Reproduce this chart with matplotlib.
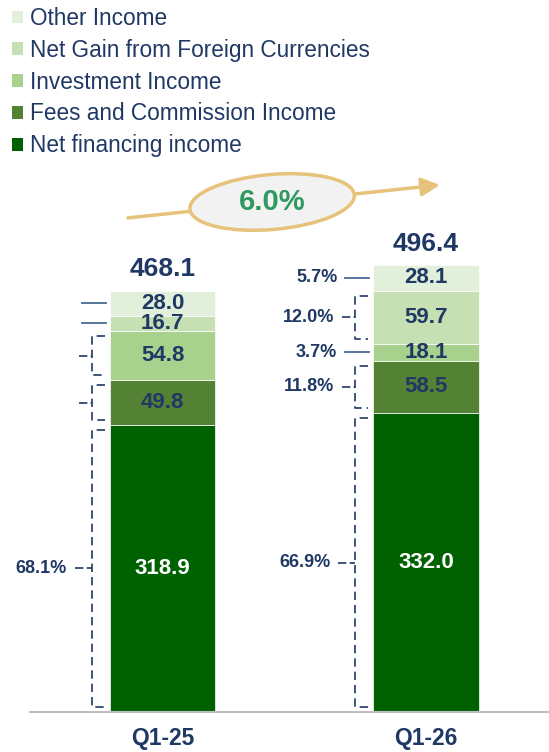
"""
Revenue breakdown Q1-25 vs Q1-26, stacked bars
"""
import matplotlib.pyplot as plt
from matplotlib.patches import Ellipse, Patch
from matplotlib.transforms import IdentityTransform

plt.rcParams['font.family'] = ['Liberation Sans', 'DejaVu Sans']

periods = ['Q1-25', 'Q1-26']
segments = ['Net financing income', 'Fees and Commission Income', 'Investment Income',
            'Net Gain from Foreign Currencies', 'Other Income']
q1_25 = [318.9, 49.8, 54.8, 16.7, 28.0]
q1_26 = [332.0, 58.5, 18.1, 59.7, 28.1]
totals = [468.1, 496.4]
pct_q1_25 = [68.1, None, None, None, None]
pct_q1_26 = [66.9, 11.8, 3.7, 12.0, 5.7]
growth = '6.0%'

colors = ['#006100', '#548235', '#A9D18E', '#C6E0B4', '#E2EFDA']
navy = '#1F3864'
tan = '#E6C27A'

fig = plt.figure(figsize=(5.49, 7.52), dpi=100)
ax = fig.add_axes([30 / 549, 40 / 752, 519 / 549, 712 / 752])

px = 1 / 263.5   # one pixel in x data units
py = 1 / 0.9     # one pixel in y data units
xs = [0, 1]
width = 0.4

ax.set_xlim(-0.503, 1.467)
ax.set_ylim(0, 712 * py)

values = [q1_25, q1_26]
pcts = [pct_q1_25, pct_q1_26]
for i, x in enumerate(xs):
    bottom = 0
    bl = x - width / 2
    for j, v in enumerate(values[i]):
        ax.bar(x, v, width, bottom=bottom, color=colors[j], edgecolor='white', linewidth=0.5)
        tc = 'white' if j == 0 else navy
        ax.text(x, bottom + v / 2, f'{v:.1f}', ha='center', va='center',
                fontsize=16, fontweight='bold', color=tc)
        mid = bottom + v / 2
        if v > 30:
            top = bottom + v - 5 * py
            bot = bottom + 5 * py
            vx = bl - 18 * px
            ax.plot([bl - 5 * px, vx, vx, bl - 5 * px], [top, top, bot, bot],
                    color=navy, lw=1.2, ls=(0, (5, 3)))
            tick = 35 if j == 0 else 31
            ax.plot([bl - tick * px, vx], [mid, mid], color=navy, lw=1.2, ls=(0, (5, 2)))
            lx = bl - (tick + 8) * px
        else:
            ax.plot([bl - 28 * px, bl - 4 * px], [mid, mid], color='#4A6A94', lw=1.3)
            lx = bl - 36 * px
        p = pcts[i][j]
        if p is not None:
            ax.text(lx, mid, f'{p:.1f}%', ha='right', va='center',
                    fontsize=13, fontweight='bold', color=navy)
        bottom += v
    ax.annotate(f'{totals[i]:.1f}', (x, totals[i]), xytext=(0, 7), textcoords='offset points',
                ha='center', va='bottom', fontsize=19, fontweight='bold', color=navy)

# growth arrow
ax.annotate('', xy=(1.053, 585.6), xytext=(-0.131, 549),
            arrowprops=dict(arrowstyle='-|>,head_length=1.1,head_width=0.55',
                            color=tan, lw=2.5, shrinkA=0, shrinkB=0))
cx, cy = ax.transData.transform((0.416, 566.7))
ax.add_patch(Ellipse((cx, cy), 165, 55, angle=5, transform=IdentityTransform(),
                     facecolor='#F2F2F2', edgecolor=tan, lw=2.5, zorder=3))
ax.text(0.416, 566.7, growth, ha='center', va='center', fontsize=21, fontweight='bold',
        color='#2E9960', zorder=4)

ax.set_xticks(xs)
ax.set_xticklabels(periods, fontsize=16.5, fontweight='bold', color=navy)
ax.tick_params(axis='x', length=0, pad=11)
ax.set_yticks([])
for s in ['left', 'right', 'top']:
    ax.spines[s].set_visible(False)
ax.spines['bottom'].set_color('#BFBFBF')
ax.spines['bottom'].set_linewidth(1.5)

handles = [Patch(facecolor=colors[j], label=segments[j]) for j in range(4, -1, -1)]
leg = fig.legend(handles=handles, loc='upper left', bbox_to_anchor=(12 / 549, 1 - 7 / 752),
                 frameon=False, fontsize=16.3, handlelength=0.5, handleheight=0.5,
                 handletextpad=0.3, labelspacing=0.39, borderaxespad=0, borderpad=0)
for t in leg.get_texts():
    t.set_color(navy)

plt.savefig('out.png', dpi=100)
